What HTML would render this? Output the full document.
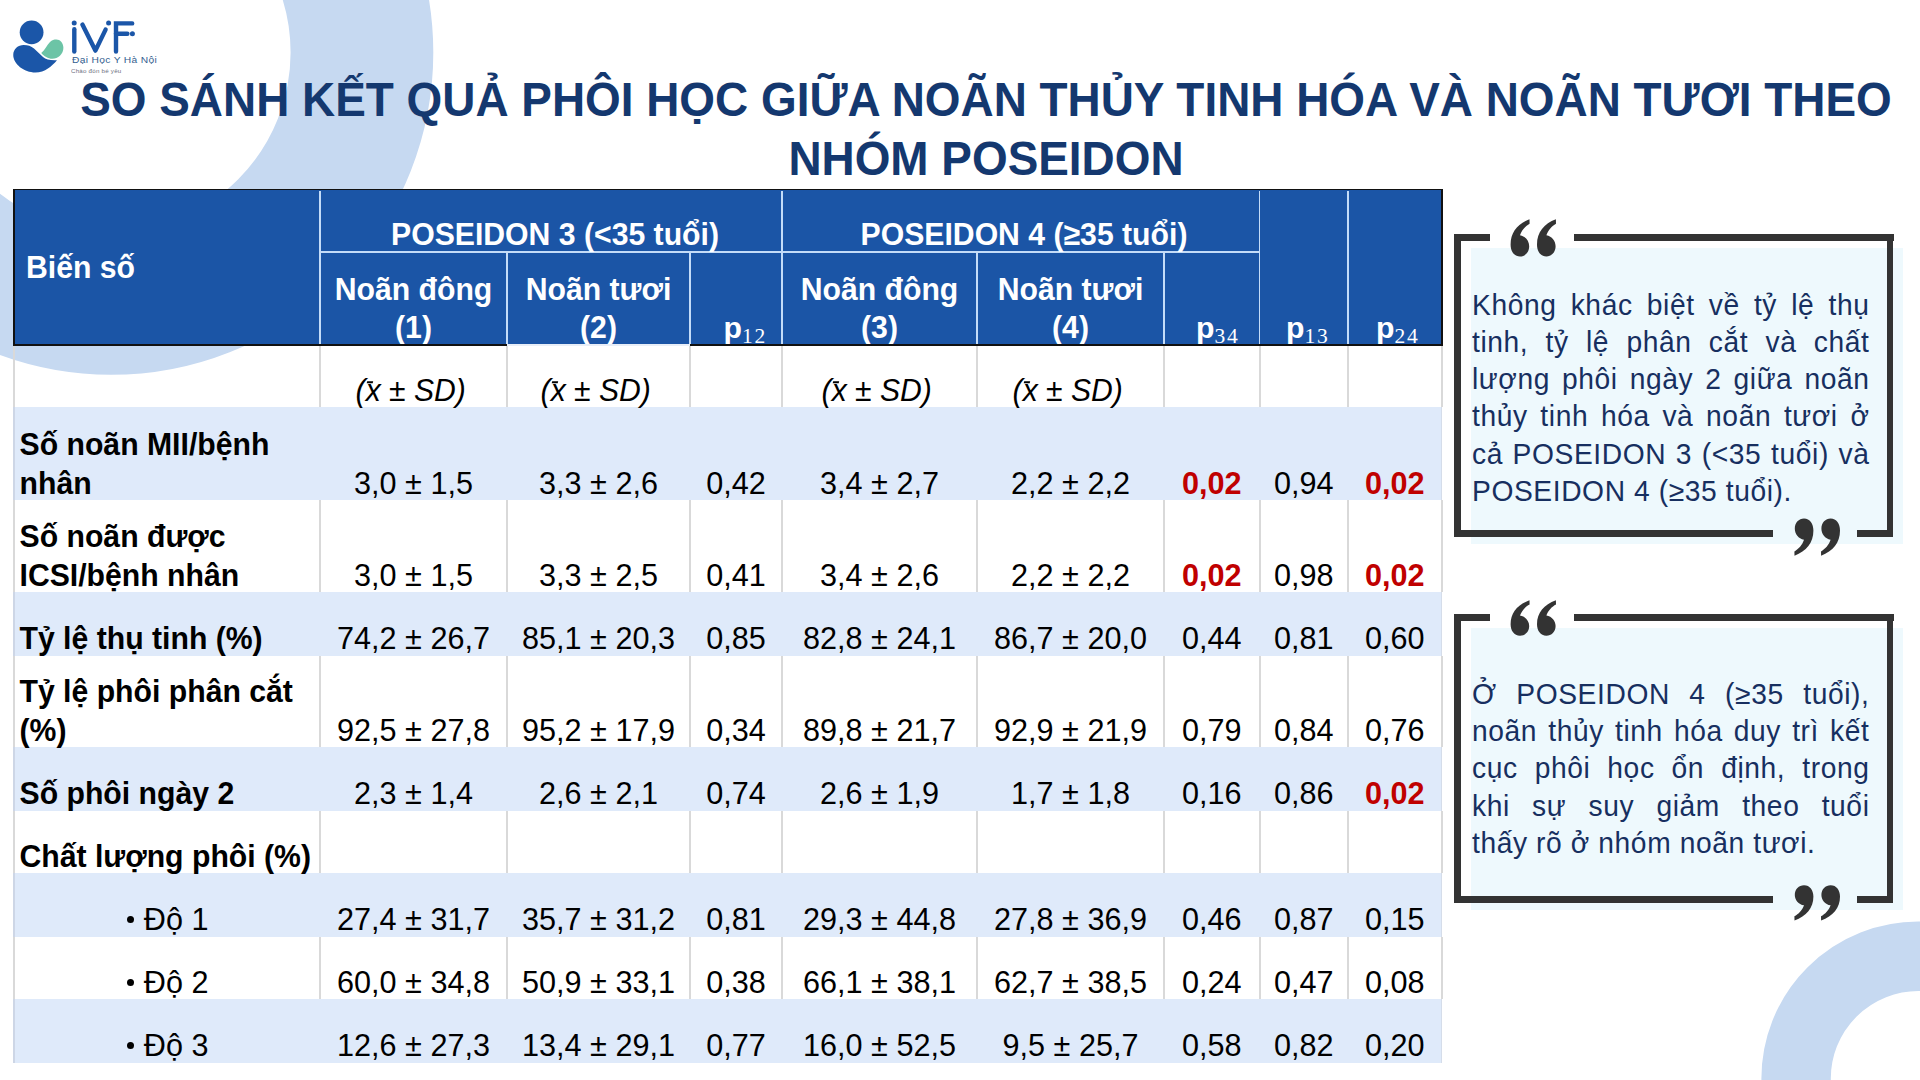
<!DOCTYPE html><html><head><meta charset="utf-8"><style>
html,body{margin:0;padding:0;background:#fff;}
body{width:1920px;height:1080px;position:relative;overflow:hidden;font-family:"Liberation Sans", sans-serif;}
.t{position:absolute;white-space:nowrap;}
.r{position:absolute;}
svg{position:absolute;left:0;top:0;}
</style></head><body>
<svg width="1920" height="1080" viewBox="0 0 1920 1080">
<circle cx="111" cy="52.5" r="250.95" fill="none" stroke="#c6d9f1" stroke-width="142.7"/>
<circle cx="1918.3" cy="1078.5" r="122.2" fill="none" stroke="#c6d9f1" stroke-width="69.4"/>
</svg>
<svg width="170" height="80" viewBox="0 0 170 80" style="left:0;top:0">
<circle cx="31.6" cy="32.3" r="11.9" fill="#1b56a8"/>
<path d="M23.75 45 C28 45 31 46 34 48.5 L43 57 C46 59.5 50 60.5 57 60.2 C52 66 45 72.5 35.4 72.5 C24 72.5 13.25 64 13.25 55 C13.25 49 18 45 23.75 45 Z" fill="#1b56a8"/>
<path d="M41.25 52.9 C45 50 47 45 50 42 C52 40 54 39.5 56.4 39.5 C60 39.5 63.4 43 63.4 47.7 C63.4 54 58 58.75 52.3 58.75 C48 58.75 44 56 41.25 52.9 Z" fill="#6cc4a6"/>
<g stroke="#1b56a8" stroke-width="4.4" stroke-linecap="round" fill="none">
<line x1="74.3" y1="29.2" x2="74.3" y2="51.6"/>
<polyline points="82.4,24.6 95.4,50.6 105.6,29.6" stroke-linejoin="round"/>
<polyline points="132.2,23.4 116,23.4 116,51.6"/>
<line x1="116" y1="33.7" x2="127.4" y2="33.7"/>
</g>
<g fill="#1b56a8"><circle cx="74.2" cy="23" r="2.5"/><circle cx="108.6" cy="23" r="2.5"/><circle cx="132.4" cy="33.7" r="2.5"/></g>
</svg>
<div class="t" style="left:71.50px;top:54.38px;font-size:9.3px;line-height:12px;color:#33608f;font-weight:normal;font-style:normal;letter-spacing:0.3px;transform:scale(1.1,1.0);transform-origin:0 9.22px;">Đại Học Y Hà Nội</div>
<div class="t" style="left:71.30px;top:66.59px;font-size:5.8px;line-height:8px;color:#6e7080;font-weight:normal;font-style:normal;letter-spacing:0.2px;transform:scale(1.07,1.0);transform-origin:0 6.01px;">Chào đón bé yêu</div>
<div class="t" style="left:0.00px;top:72.40px;width:1972.00px;text-align:center;font-size:45.9px;line-height:56px;color:#14386f;font-weight:bold;font-style:normal;transform:scale(1.0,1.04);transform-origin:0 43.90px;">SO SÁNH KẾT QUẢ PHÔI HỌC GIỮA NOÃN THỦY TINH HÓA VÀ NOÃN TƯƠI THEO</div>
<div class="t" style="left:0.00px;top:131.30px;width:1972.00px;text-align:center;font-size:45.9px;line-height:56px;color:#14386f;font-weight:bold;font-style:normal;transform:scale(1.0,1.04);transform-origin:0 43.90px;">NHÓM POSEIDON</div>
<div class="r" style="left:13.00px;top:345.00px;width:2.00px;height:62.00px;background:#d9d9d9;"></div>
<div class="r" style="left:319.00px;top:345.00px;width:2.00px;height:62.00px;background:#d9d9d9;"></div>
<div class="r" style="left:506.00px;top:345.00px;width:2.00px;height:62.00px;background:#d9d9d9;"></div>
<div class="r" style="left:689.00px;top:345.00px;width:2.00px;height:62.00px;background:#d9d9d9;"></div>
<div class="r" style="left:781.00px;top:345.00px;width:2.00px;height:62.00px;background:#d9d9d9;"></div>
<div class="r" style="left:976.00px;top:345.00px;width:2.00px;height:62.00px;background:#d9d9d9;"></div>
<div class="r" style="left:1163.00px;top:345.00px;width:2.00px;height:62.00px;background:#d9d9d9;"></div>
<div class="r" style="left:1258.50px;top:345.00px;width:2.00px;height:62.00px;background:#d9d9d9;"></div>
<div class="r" style="left:1347.00px;top:345.00px;width:2.00px;height:62.00px;background:#d9d9d9;"></div>
<div class="r" style="left:1440.50px;top:345.00px;width:2.00px;height:62.00px;background:#d9d9d9;"></div>
<div class="r" style="left:14.00px;top:407.00px;width:1427.50px;height:93.30px;background:#dfeafa;"></div>
<div class="r" style="left:13.00px;top:407.00px;width:1.50px;height:93.30px;background:#cdd6e6;"></div>
<div class="r" style="left:1441.00px;top:407.00px;width:1.00px;height:93.30px;background:#d5ddea;"></div>
<div class="r" style="left:13.00px;top:500.30px;width:2.00px;height:91.70px;background:#d9d9d9;"></div>
<div class="r" style="left:319.00px;top:500.30px;width:2.00px;height:91.70px;background:#d9d9d9;"></div>
<div class="r" style="left:506.00px;top:500.30px;width:2.00px;height:91.70px;background:#d9d9d9;"></div>
<div class="r" style="left:689.00px;top:500.30px;width:2.00px;height:91.70px;background:#d9d9d9;"></div>
<div class="r" style="left:781.00px;top:500.30px;width:2.00px;height:91.70px;background:#d9d9d9;"></div>
<div class="r" style="left:976.00px;top:500.30px;width:2.00px;height:91.70px;background:#d9d9d9;"></div>
<div class="r" style="left:1163.00px;top:500.30px;width:2.00px;height:91.70px;background:#d9d9d9;"></div>
<div class="r" style="left:1258.50px;top:500.30px;width:2.00px;height:91.70px;background:#d9d9d9;"></div>
<div class="r" style="left:1347.00px;top:500.30px;width:2.00px;height:91.70px;background:#d9d9d9;"></div>
<div class="r" style="left:1440.50px;top:500.30px;width:2.00px;height:91.70px;background:#d9d9d9;"></div>
<div class="r" style="left:14.00px;top:592.00px;width:1427.50px;height:64.00px;background:#dfeafa;"></div>
<div class="r" style="left:13.00px;top:592.00px;width:1.50px;height:64.00px;background:#cdd6e6;"></div>
<div class="r" style="left:1441.00px;top:592.00px;width:1.00px;height:64.00px;background:#d5ddea;"></div>
<div class="r" style="left:13.00px;top:656.00px;width:2.00px;height:91.00px;background:#d9d9d9;"></div>
<div class="r" style="left:319.00px;top:656.00px;width:2.00px;height:91.00px;background:#d9d9d9;"></div>
<div class="r" style="left:506.00px;top:656.00px;width:2.00px;height:91.00px;background:#d9d9d9;"></div>
<div class="r" style="left:689.00px;top:656.00px;width:2.00px;height:91.00px;background:#d9d9d9;"></div>
<div class="r" style="left:781.00px;top:656.00px;width:2.00px;height:91.00px;background:#d9d9d9;"></div>
<div class="r" style="left:976.00px;top:656.00px;width:2.00px;height:91.00px;background:#d9d9d9;"></div>
<div class="r" style="left:1163.00px;top:656.00px;width:2.00px;height:91.00px;background:#d9d9d9;"></div>
<div class="r" style="left:1258.50px;top:656.00px;width:2.00px;height:91.00px;background:#d9d9d9;"></div>
<div class="r" style="left:1347.00px;top:656.00px;width:2.00px;height:91.00px;background:#d9d9d9;"></div>
<div class="r" style="left:1440.50px;top:656.00px;width:2.00px;height:91.00px;background:#d9d9d9;"></div>
<div class="r" style="left:14.00px;top:747.00px;width:1427.50px;height:64.00px;background:#dfeafa;"></div>
<div class="r" style="left:13.00px;top:747.00px;width:1.50px;height:64.00px;background:#cdd6e6;"></div>
<div class="r" style="left:1441.00px;top:747.00px;width:1.00px;height:64.00px;background:#d5ddea;"></div>
<div class="r" style="left:13.00px;top:811.00px;width:2.00px;height:62.00px;background:#d9d9d9;"></div>
<div class="r" style="left:319.00px;top:811.00px;width:2.00px;height:62.00px;background:#d9d9d9;"></div>
<div class="r" style="left:506.00px;top:811.00px;width:2.00px;height:62.00px;background:#d9d9d9;"></div>
<div class="r" style="left:689.00px;top:811.00px;width:2.00px;height:62.00px;background:#d9d9d9;"></div>
<div class="r" style="left:781.00px;top:811.00px;width:2.00px;height:62.00px;background:#d9d9d9;"></div>
<div class="r" style="left:976.00px;top:811.00px;width:2.00px;height:62.00px;background:#d9d9d9;"></div>
<div class="r" style="left:1163.00px;top:811.00px;width:2.00px;height:62.00px;background:#d9d9d9;"></div>
<div class="r" style="left:1258.50px;top:811.00px;width:2.00px;height:62.00px;background:#d9d9d9;"></div>
<div class="r" style="left:1347.00px;top:811.00px;width:2.00px;height:62.00px;background:#d9d9d9;"></div>
<div class="r" style="left:1440.50px;top:811.00px;width:2.00px;height:62.00px;background:#d9d9d9;"></div>
<div class="r" style="left:14.00px;top:873.00px;width:1427.50px;height:64.00px;background:#dfeafa;"></div>
<div class="r" style="left:13.00px;top:873.00px;width:1.50px;height:64.00px;background:#cdd6e6;"></div>
<div class="r" style="left:1441.00px;top:873.00px;width:1.00px;height:64.00px;background:#d5ddea;"></div>
<div class="r" style="left:13.00px;top:937.00px;width:2.00px;height:62.00px;background:#d9d9d9;"></div>
<div class="r" style="left:319.00px;top:937.00px;width:2.00px;height:62.00px;background:#d9d9d9;"></div>
<div class="r" style="left:506.00px;top:937.00px;width:2.00px;height:62.00px;background:#d9d9d9;"></div>
<div class="r" style="left:689.00px;top:937.00px;width:2.00px;height:62.00px;background:#d9d9d9;"></div>
<div class="r" style="left:781.00px;top:937.00px;width:2.00px;height:62.00px;background:#d9d9d9;"></div>
<div class="r" style="left:976.00px;top:937.00px;width:2.00px;height:62.00px;background:#d9d9d9;"></div>
<div class="r" style="left:1163.00px;top:937.00px;width:2.00px;height:62.00px;background:#d9d9d9;"></div>
<div class="r" style="left:1258.50px;top:937.00px;width:2.00px;height:62.00px;background:#d9d9d9;"></div>
<div class="r" style="left:1347.00px;top:937.00px;width:2.00px;height:62.00px;background:#d9d9d9;"></div>
<div class="r" style="left:1440.50px;top:937.00px;width:2.00px;height:62.00px;background:#d9d9d9;"></div>
<div class="r" style="left:14.00px;top:999.00px;width:1427.50px;height:64.00px;background:#dfeafa;"></div>
<div class="r" style="left:13.00px;top:999.00px;width:1.50px;height:64.00px;background:#cdd6e6;"></div>
<div class="r" style="left:1441.00px;top:999.00px;width:1.00px;height:64.00px;background:#d5ddea;"></div>
<div class="r" style="left:13.00px;top:189.00px;width:1429.50px;height:156.50px;background:#1b55a6;"></div>
<div class="r" style="left:319.25px;top:191.00px;width:1.50px;height:152.50px;background:#c4dcf8;"></div>
<div class="r" style="left:506.25px;top:252.00px;width:1.50px;height:91.50px;background:#c4dcf8;"></div>
<div class="r" style="left:689.25px;top:252.00px;width:1.50px;height:91.50px;background:#c4dcf8;"></div>
<div class="r" style="left:781.25px;top:191.00px;width:1.50px;height:152.50px;background:#c4dcf8;"></div>
<div class="r" style="left:976.25px;top:252.00px;width:1.50px;height:91.50px;background:#c4dcf8;"></div>
<div class="r" style="left:1163.25px;top:252.00px;width:1.50px;height:91.50px;background:#c4dcf8;"></div>
<div class="r" style="left:1258.75px;top:191.00px;width:1.50px;height:152.50px;background:#c4dcf8;"></div>
<div class="r" style="left:1347.25px;top:191.00px;width:1.50px;height:152.50px;background:#c4dcf8;"></div>
<div class="r" style="left:320.00px;top:251.25px;width:939.50px;height:1.50px;background:#c4dcf8;"></div>
<div class="t" style="left:26.00px;top:248.54px;font-size:30.2px;line-height:38px;color:#fff;font-weight:bold;font-style:normal;transform:scale(1.0,1.04);transform-origin:0 29.46px;">Biến số</div>
<div class="t" style="left:320.00px;top:216.34px;width:470.00px;text-align:center;font-size:30.2px;line-height:38px;color:#fff;font-weight:bold;font-style:normal;transform:scale(1.0,1.04);transform-origin:0 29.46px;">POSEIDON 3 (&lt;35 tuổi)</div>
<div class="t" style="left:782.00px;top:216.34px;width:484.00px;text-align:center;font-size:30.2px;line-height:38px;color:#fff;font-weight:bold;font-style:normal;transform:scale(1.0,1.04);transform-origin:0 29.46px;">POSEIDON 4 (≥35 tuổi)</div>
<div class="t" style="left:320.00px;top:270.54px;width:187.00px;text-align:center;font-size:30.2px;line-height:38px;color:#fff;font-weight:bold;font-style:normal;transform:scale(1.0,1.04);transform-origin:0 29.46px;">Noãn đông</div>
<div class="t" style="left:320.00px;top:308.54px;width:187.00px;text-align:center;font-size:30.2px;line-height:38px;color:#fff;font-weight:bold;font-style:normal;transform:scale(1.0,1.04);transform-origin:0 29.46px;">(1)</div>
<div class="t" style="left:507.00px;top:270.54px;width:183.00px;text-align:center;font-size:30.2px;line-height:38px;color:#fff;font-weight:bold;font-style:normal;transform:scale(1.0,1.04);transform-origin:0 29.46px;">Noãn tươi</div>
<div class="t" style="left:507.00px;top:308.54px;width:183.00px;text-align:center;font-size:30.2px;line-height:38px;color:#fff;font-weight:bold;font-style:normal;transform:scale(1.0,1.04);transform-origin:0 29.46px;">(2)</div>
<div class="t" style="left:782.00px;top:270.54px;width:195.00px;text-align:center;font-size:30.2px;line-height:38px;color:#fff;font-weight:bold;font-style:normal;transform:scale(1.0,1.04);transform-origin:0 29.46px;">Noãn đông</div>
<div class="t" style="left:782.00px;top:308.54px;width:195.00px;text-align:center;font-size:30.2px;line-height:38px;color:#fff;font-weight:bold;font-style:normal;transform:scale(1.0,1.04);transform-origin:0 29.46px;">(3)</div>
<div class="t" style="left:977.00px;top:270.54px;width:187.00px;text-align:center;font-size:30.2px;line-height:38px;color:#fff;font-weight:bold;font-style:normal;transform:scale(1.0,1.04);transform-origin:0 29.46px;">Noãn tươi</div>
<div class="t" style="left:977.00px;top:308.54px;width:187.00px;text-align:center;font-size:30.2px;line-height:38px;color:#fff;font-weight:bold;font-style:normal;transform:scale(1.0,1.04);transform-origin:0 29.46px;">(4)</div>
<div class="t" style="left:723.5px;top:308.54px;font-size:30.2px;line-height:38px;color:#fff;font-weight:bold;">p<span style="font-family:'Liberation Serif',serif;font-weight:normal;font-size:21.5px;letter-spacing:1.8px;position:relative;top:5px;">12</span></div>
<div class="t" style="left:1196px;top:308.54px;font-size:30.2px;line-height:38px;color:#fff;font-weight:bold;">p<span style="font-family:'Liberation Serif',serif;font-weight:normal;font-size:21.5px;letter-spacing:1.8px;position:relative;top:5px;">34</span></div>
<div class="t" style="left:1286px;top:308.54px;font-size:30.2px;line-height:38px;color:#fff;font-weight:bold;">p<span style="font-family:'Liberation Serif',serif;font-weight:normal;font-size:21.5px;letter-spacing:1.8px;position:relative;top:5px;">13</span></div>
<div class="t" style="left:1376px;top:308.54px;font-size:30.2px;line-height:38px;color:#fff;font-weight:bold;">p<span style="font-family:'Liberation Serif',serif;font-weight:normal;font-size:21.5px;letter-spacing:1.8px;position:relative;top:5px;">24</span></div>
<div class="r" style="left:13.00px;top:189.00px;width:1429.50px;height:1.40px;background:#111;"></div>
<div class="r" style="left:13.00px;top:343.50px;width:1429.50px;height:2.00px;background:#111;"></div>
<div class="r" style="left:13.00px;top:189.00px;width:1.50px;height:156.50px;background:#111;"></div>
<div class="r" style="left:1441.00px;top:189.00px;width:1.50px;height:156.50px;background:#111;"></div>
<div class="r" style="left:507.00px;top:343.50px;width:183.00px;height:2.00px;background:#e8eef8;"></div>
<div class="t" style="left:317.20px;top:371.57px;width:187.00px;text-align:center;font-size:30.1px;line-height:38px;color:#000;font-weight:normal;font-style:italic;transform:scale(1.0,1.04);transform-origin:0 29.43px;">(<span style="position:relative;display:inline-block;">x<span style="position:absolute;left:1px;top:9.5px;width:5.5px;height:1.5px;background:#000;transform:skewX(-12deg);"></span></span> ± SD)</div>
<div class="t" style="left:504.20px;top:371.57px;width:183.00px;text-align:center;font-size:30.1px;line-height:38px;color:#000;font-weight:normal;font-style:italic;transform:scale(1.0,1.04);transform-origin:0 29.43px;">(<span style="position:relative;display:inline-block;">x<span style="position:absolute;left:1px;top:9.5px;width:5.5px;height:1.5px;background:#000;transform:skewX(-12deg);"></span></span> ± SD)</div>
<div class="t" style="left:779.20px;top:371.57px;width:195.00px;text-align:center;font-size:30.1px;line-height:38px;color:#000;font-weight:normal;font-style:italic;transform:scale(1.0,1.04);transform-origin:0 29.43px;">(<span style="position:relative;display:inline-block;">x<span style="position:absolute;left:1px;top:9.5px;width:5.5px;height:1.5px;background:#000;transform:skewX(-12deg);"></span></span> ± SD)</div>
<div class="t" style="left:974.20px;top:371.57px;width:187.00px;text-align:center;font-size:30.1px;line-height:38px;color:#000;font-weight:normal;font-style:italic;transform:scale(1.0,1.04);transform-origin:0 29.43px;">(<span style="position:relative;display:inline-block;">x<span style="position:absolute;left:1px;top:9.5px;width:5.5px;height:1.5px;background:#000;transform:skewX(-12deg);"></span></span> ± SD)</div>
<div class="t" style="left:19.50px;top:426.34px;font-size:30.2px;line-height:38px;color:#000;font-weight:bold;font-style:normal;transform:scale(1.0,1.04);transform-origin:0 29.46px;">Số noãn MII/bệnh</div>
<div class="t" style="left:19.50px;top:464.84px;font-size:30.2px;line-height:38px;color:#000;font-weight:bold;font-style:normal;transform:scale(1.0,1.04);transform-origin:0 29.46px;">nhân</div>
<div class="t" style="left:320.00px;top:463.70px;width:187.00px;text-align:center;font-size:30.6px;line-height:38px;color:#000;font-weight:normal;font-style:normal;transform:scale(1.0,1.04);transform-origin:0 29.60px;">3,0 ± 1,5</div>
<div class="t" style="left:507.00px;top:463.70px;width:183.00px;text-align:center;font-size:30.6px;line-height:38px;color:#000;font-weight:normal;font-style:normal;transform:scale(1.0,1.04);transform-origin:0 29.60px;">3,3 ± 2,6</div>
<div class="t" style="left:690.00px;top:463.70px;width:92.00px;text-align:center;font-size:30.6px;line-height:38px;color:#000;font-weight:normal;font-style:normal;transform:scale(1.0,1.04);transform-origin:0 29.60px;">0,42</div>
<div class="t" style="left:782.00px;top:463.70px;width:195.00px;text-align:center;font-size:30.6px;line-height:38px;color:#000;font-weight:normal;font-style:normal;transform:scale(1.0,1.04);transform-origin:0 29.60px;">3,4 ± 2,7</div>
<div class="t" style="left:977.00px;top:463.70px;width:187.00px;text-align:center;font-size:30.6px;line-height:38px;color:#000;font-weight:normal;font-style:normal;transform:scale(1.0,1.04);transform-origin:0 29.60px;">2,2 ± 2,2</div>
<div class="t" style="left:1164.00px;top:463.70px;width:95.50px;text-align:center;font-size:30.6px;line-height:38px;color:#c00000;font-weight:bold;font-style:normal;transform:scale(1.0,1.04);transform-origin:0 29.60px;">0,02</div>
<div class="t" style="left:1259.50px;top:463.70px;width:88.50px;text-align:center;font-size:30.6px;line-height:38px;color:#000;font-weight:normal;font-style:normal;transform:scale(1.0,1.04);transform-origin:0 29.60px;">0,94</div>
<div class="t" style="left:1348.00px;top:463.70px;width:93.50px;text-align:center;font-size:30.6px;line-height:38px;color:#c00000;font-weight:bold;font-style:normal;transform:scale(1.0,1.04);transform-origin:0 29.60px;">0,02</div>
<div class="t" style="left:19.50px;top:518.04px;font-size:30.2px;line-height:38px;color:#000;font-weight:bold;font-style:normal;transform:scale(1.0,1.04);transform-origin:0 29.46px;">Số noãn được</div>
<div class="t" style="left:19.50px;top:556.54px;font-size:30.2px;line-height:38px;color:#000;font-weight:bold;font-style:normal;transform:scale(1.0,1.04);transform-origin:0 29.46px;">ICSI/bệnh nhân</div>
<div class="t" style="left:320.00px;top:556.40px;width:187.00px;text-align:center;font-size:30.6px;line-height:38px;color:#000;font-weight:normal;font-style:normal;transform:scale(1.0,1.04);transform-origin:0 29.60px;">3,0 ± 1,5</div>
<div class="t" style="left:507.00px;top:556.40px;width:183.00px;text-align:center;font-size:30.6px;line-height:38px;color:#000;font-weight:normal;font-style:normal;transform:scale(1.0,1.04);transform-origin:0 29.60px;">3,3 ± 2,5</div>
<div class="t" style="left:690.00px;top:556.40px;width:92.00px;text-align:center;font-size:30.6px;line-height:38px;color:#000;font-weight:normal;font-style:normal;transform:scale(1.0,1.04);transform-origin:0 29.60px;">0,41</div>
<div class="t" style="left:782.00px;top:556.40px;width:195.00px;text-align:center;font-size:30.6px;line-height:38px;color:#000;font-weight:normal;font-style:normal;transform:scale(1.0,1.04);transform-origin:0 29.60px;">3,4 ± 2,6</div>
<div class="t" style="left:977.00px;top:556.40px;width:187.00px;text-align:center;font-size:30.6px;line-height:38px;color:#000;font-weight:normal;font-style:normal;transform:scale(1.0,1.04);transform-origin:0 29.60px;">2,2 ± 2,2</div>
<div class="t" style="left:1164.00px;top:556.40px;width:95.50px;text-align:center;font-size:30.6px;line-height:38px;color:#c00000;font-weight:bold;font-style:normal;transform:scale(1.0,1.04);transform-origin:0 29.60px;">0,02</div>
<div class="t" style="left:1259.50px;top:556.40px;width:88.50px;text-align:center;font-size:30.6px;line-height:38px;color:#000;font-weight:normal;font-style:normal;transform:scale(1.0,1.04);transform-origin:0 29.60px;">0,98</div>
<div class="t" style="left:1348.00px;top:556.40px;width:93.50px;text-align:center;font-size:30.6px;line-height:38px;color:#c00000;font-weight:bold;font-style:normal;transform:scale(1.0,1.04);transform-origin:0 29.60px;">0,02</div>
<div class="t" style="left:19.50px;top:619.54px;font-size:30.2px;line-height:38px;color:#000;font-weight:bold;font-style:normal;transform:scale(1.0,1.04);transform-origin:0 29.46px;">Tỷ lệ thụ tinh (%)</div>
<div class="t" style="left:320.00px;top:619.40px;width:187.00px;text-align:center;font-size:30.6px;line-height:38px;color:#000;font-weight:normal;font-style:normal;transform:scale(1.0,1.04);transform-origin:0 29.60px;">74,2 ± 26,7</div>
<div class="t" style="left:507.00px;top:619.40px;width:183.00px;text-align:center;font-size:30.6px;line-height:38px;color:#000;font-weight:normal;font-style:normal;transform:scale(1.0,1.04);transform-origin:0 29.60px;">85,1 ± 20,3</div>
<div class="t" style="left:690.00px;top:619.40px;width:92.00px;text-align:center;font-size:30.6px;line-height:38px;color:#000;font-weight:normal;font-style:normal;transform:scale(1.0,1.04);transform-origin:0 29.60px;">0,85</div>
<div class="t" style="left:782.00px;top:619.40px;width:195.00px;text-align:center;font-size:30.6px;line-height:38px;color:#000;font-weight:normal;font-style:normal;transform:scale(1.0,1.04);transform-origin:0 29.60px;">82,8 ± 24,1</div>
<div class="t" style="left:977.00px;top:619.40px;width:187.00px;text-align:center;font-size:30.6px;line-height:38px;color:#000;font-weight:normal;font-style:normal;transform:scale(1.0,1.04);transform-origin:0 29.60px;">86,7 ± 20,0</div>
<div class="t" style="left:1164.00px;top:619.40px;width:95.50px;text-align:center;font-size:30.6px;line-height:38px;color:#000;font-weight:normal;font-style:normal;transform:scale(1.0,1.04);transform-origin:0 29.60px;">0,44</div>
<div class="t" style="left:1259.50px;top:619.40px;width:88.50px;text-align:center;font-size:30.6px;line-height:38px;color:#000;font-weight:normal;font-style:normal;transform:scale(1.0,1.04);transform-origin:0 29.60px;">0,81</div>
<div class="t" style="left:1348.00px;top:619.40px;width:93.50px;text-align:center;font-size:30.6px;line-height:38px;color:#000;font-weight:normal;font-style:normal;transform:scale(1.0,1.04);transform-origin:0 29.60px;">0,60</div>
<div class="t" style="left:19.50px;top:673.04px;font-size:30.2px;line-height:38px;color:#000;font-weight:bold;font-style:normal;transform:scale(1.0,1.04);transform-origin:0 29.46px;">Tỷ lệ phôi phân cắt</div>
<div class="t" style="left:19.50px;top:711.54px;font-size:30.2px;line-height:38px;color:#000;font-weight:bold;font-style:normal;transform:scale(1.0,1.04);transform-origin:0 29.46px;">(%)</div>
<div class="t" style="left:320.00px;top:711.40px;width:187.00px;text-align:center;font-size:30.6px;line-height:38px;color:#000;font-weight:normal;font-style:normal;transform:scale(1.0,1.04);transform-origin:0 29.60px;">92,5 ± 27,8</div>
<div class="t" style="left:507.00px;top:711.40px;width:183.00px;text-align:center;font-size:30.6px;line-height:38px;color:#000;font-weight:normal;font-style:normal;transform:scale(1.0,1.04);transform-origin:0 29.60px;">95,2 ± 17,9</div>
<div class="t" style="left:690.00px;top:711.40px;width:92.00px;text-align:center;font-size:30.6px;line-height:38px;color:#000;font-weight:normal;font-style:normal;transform:scale(1.0,1.04);transform-origin:0 29.60px;">0,34</div>
<div class="t" style="left:782.00px;top:711.40px;width:195.00px;text-align:center;font-size:30.6px;line-height:38px;color:#000;font-weight:normal;font-style:normal;transform:scale(1.0,1.04);transform-origin:0 29.60px;">89,8 ± 21,7</div>
<div class="t" style="left:977.00px;top:711.40px;width:187.00px;text-align:center;font-size:30.6px;line-height:38px;color:#000;font-weight:normal;font-style:normal;transform:scale(1.0,1.04);transform-origin:0 29.60px;">92,9 ± 21,9</div>
<div class="t" style="left:1164.00px;top:711.40px;width:95.50px;text-align:center;font-size:30.6px;line-height:38px;color:#000;font-weight:normal;font-style:normal;transform:scale(1.0,1.04);transform-origin:0 29.60px;">0,79</div>
<div class="t" style="left:1259.50px;top:711.40px;width:88.50px;text-align:center;font-size:30.6px;line-height:38px;color:#000;font-weight:normal;font-style:normal;transform:scale(1.0,1.04);transform-origin:0 29.60px;">0,84</div>
<div class="t" style="left:1348.00px;top:711.40px;width:93.50px;text-align:center;font-size:30.6px;line-height:38px;color:#000;font-weight:normal;font-style:normal;transform:scale(1.0,1.04);transform-origin:0 29.60px;">0,76</div>
<div class="t" style="left:19.50px;top:774.54px;font-size:30.2px;line-height:38px;color:#000;font-weight:bold;font-style:normal;transform:scale(1.0,1.04);transform-origin:0 29.46px;">Số phôi ngày 2</div>
<div class="t" style="left:320.00px;top:774.40px;width:187.00px;text-align:center;font-size:30.6px;line-height:38px;color:#000;font-weight:normal;font-style:normal;transform:scale(1.0,1.04);transform-origin:0 29.60px;">2,3 ± 1,4</div>
<div class="t" style="left:507.00px;top:774.40px;width:183.00px;text-align:center;font-size:30.6px;line-height:38px;color:#000;font-weight:normal;font-style:normal;transform:scale(1.0,1.04);transform-origin:0 29.60px;">2,6 ± 2,1</div>
<div class="t" style="left:690.00px;top:774.40px;width:92.00px;text-align:center;font-size:30.6px;line-height:38px;color:#000;font-weight:normal;font-style:normal;transform:scale(1.0,1.04);transform-origin:0 29.60px;">0,74</div>
<div class="t" style="left:782.00px;top:774.40px;width:195.00px;text-align:center;font-size:30.6px;line-height:38px;color:#000;font-weight:normal;font-style:normal;transform:scale(1.0,1.04);transform-origin:0 29.60px;">2,6 ± 1,9</div>
<div class="t" style="left:977.00px;top:774.40px;width:187.00px;text-align:center;font-size:30.6px;line-height:38px;color:#000;font-weight:normal;font-style:normal;transform:scale(1.0,1.04);transform-origin:0 29.60px;">1,7 ± 1,8</div>
<div class="t" style="left:1164.00px;top:774.40px;width:95.50px;text-align:center;font-size:30.6px;line-height:38px;color:#000;font-weight:normal;font-style:normal;transform:scale(1.0,1.04);transform-origin:0 29.60px;">0,16</div>
<div class="t" style="left:1259.50px;top:774.40px;width:88.50px;text-align:center;font-size:30.6px;line-height:38px;color:#000;font-weight:normal;font-style:normal;transform:scale(1.0,1.04);transform-origin:0 29.60px;">0,86</div>
<div class="t" style="left:1348.00px;top:774.40px;width:93.50px;text-align:center;font-size:30.6px;line-height:38px;color:#c00000;font-weight:bold;font-style:normal;transform:scale(1.0,1.04);transform-origin:0 29.60px;">0,02</div>
<div class="t" style="left:19.50px;top:837.54px;font-size:30.2px;line-height:38px;color:#000;font-weight:bold;font-style:normal;transform:scale(1.0,1.04);transform-origin:0 29.46px;">Chất lượng phôi (%)</div>
<div class="r" style="left:127.05px;top:915.65px;width:7.30px;height:7.30px;background:#000;border-radius:50%;"></div>
<div class="t" style="left:143.80px;top:900.40px;font-size:30.6px;line-height:38px;color:#000;font-weight:normal;font-style:normal;transform:scale(1.0,1.04);transform-origin:0 29.60px;">Độ 1</div>
<div class="t" style="left:320.00px;top:900.40px;width:187.00px;text-align:center;font-size:30.6px;line-height:38px;color:#000;font-weight:normal;font-style:normal;transform:scale(1.0,1.04);transform-origin:0 29.60px;">27,4 ± 31,7</div>
<div class="t" style="left:507.00px;top:900.40px;width:183.00px;text-align:center;font-size:30.6px;line-height:38px;color:#000;font-weight:normal;font-style:normal;transform:scale(1.0,1.04);transform-origin:0 29.60px;">35,7 ± 31,2</div>
<div class="t" style="left:690.00px;top:900.40px;width:92.00px;text-align:center;font-size:30.6px;line-height:38px;color:#000;font-weight:normal;font-style:normal;transform:scale(1.0,1.04);transform-origin:0 29.60px;">0,81</div>
<div class="t" style="left:782.00px;top:900.40px;width:195.00px;text-align:center;font-size:30.6px;line-height:38px;color:#000;font-weight:normal;font-style:normal;transform:scale(1.0,1.04);transform-origin:0 29.60px;">29,3 ± 44,8</div>
<div class="t" style="left:977.00px;top:900.40px;width:187.00px;text-align:center;font-size:30.6px;line-height:38px;color:#000;font-weight:normal;font-style:normal;transform:scale(1.0,1.04);transform-origin:0 29.60px;">27,8 ± 36,9</div>
<div class="t" style="left:1164.00px;top:900.40px;width:95.50px;text-align:center;font-size:30.6px;line-height:38px;color:#000;font-weight:normal;font-style:normal;transform:scale(1.0,1.04);transform-origin:0 29.60px;">0,46</div>
<div class="t" style="left:1259.50px;top:900.40px;width:88.50px;text-align:center;font-size:30.6px;line-height:38px;color:#000;font-weight:normal;font-style:normal;transform:scale(1.0,1.04);transform-origin:0 29.60px;">0,87</div>
<div class="t" style="left:1348.00px;top:900.40px;width:93.50px;text-align:center;font-size:30.6px;line-height:38px;color:#000;font-weight:normal;font-style:normal;transform:scale(1.0,1.04);transform-origin:0 29.60px;">0,15</div>
<div class="r" style="left:127.05px;top:978.65px;width:7.30px;height:7.30px;background:#000;border-radius:50%;"></div>
<div class="t" style="left:143.80px;top:963.40px;font-size:30.6px;line-height:38px;color:#000;font-weight:normal;font-style:normal;transform:scale(1.0,1.04);transform-origin:0 29.60px;">Độ 2</div>
<div class="t" style="left:320.00px;top:963.40px;width:187.00px;text-align:center;font-size:30.6px;line-height:38px;color:#000;font-weight:normal;font-style:normal;transform:scale(1.0,1.04);transform-origin:0 29.60px;">60,0 ± 34,8</div>
<div class="t" style="left:507.00px;top:963.40px;width:183.00px;text-align:center;font-size:30.6px;line-height:38px;color:#000;font-weight:normal;font-style:normal;transform:scale(1.0,1.04);transform-origin:0 29.60px;">50,9 ± 33,1</div>
<div class="t" style="left:690.00px;top:963.40px;width:92.00px;text-align:center;font-size:30.6px;line-height:38px;color:#000;font-weight:normal;font-style:normal;transform:scale(1.0,1.04);transform-origin:0 29.60px;">0,38</div>
<div class="t" style="left:782.00px;top:963.40px;width:195.00px;text-align:center;font-size:30.6px;line-height:38px;color:#000;font-weight:normal;font-style:normal;transform:scale(1.0,1.04);transform-origin:0 29.60px;">66,1 ± 38,1</div>
<div class="t" style="left:977.00px;top:963.40px;width:187.00px;text-align:center;font-size:30.6px;line-height:38px;color:#000;font-weight:normal;font-style:normal;transform:scale(1.0,1.04);transform-origin:0 29.60px;">62,7 ± 38,5</div>
<div class="t" style="left:1164.00px;top:963.40px;width:95.50px;text-align:center;font-size:30.6px;line-height:38px;color:#000;font-weight:normal;font-style:normal;transform:scale(1.0,1.04);transform-origin:0 29.60px;">0,24</div>
<div class="t" style="left:1259.50px;top:963.40px;width:88.50px;text-align:center;font-size:30.6px;line-height:38px;color:#000;font-weight:normal;font-style:normal;transform:scale(1.0,1.04);transform-origin:0 29.60px;">0,47</div>
<div class="t" style="left:1348.00px;top:963.40px;width:93.50px;text-align:center;font-size:30.6px;line-height:38px;color:#000;font-weight:normal;font-style:normal;transform:scale(1.0,1.04);transform-origin:0 29.60px;">0,08</div>
<div class="r" style="left:127.05px;top:1041.65px;width:7.30px;height:7.30px;background:#000;border-radius:50%;"></div>
<div class="t" style="left:143.80px;top:1026.40px;font-size:30.6px;line-height:38px;color:#000;font-weight:normal;font-style:normal;transform:scale(1.0,1.04);transform-origin:0 29.60px;">Độ 3</div>
<div class="t" style="left:320.00px;top:1026.40px;width:187.00px;text-align:center;font-size:30.6px;line-height:38px;color:#000;font-weight:normal;font-style:normal;transform:scale(1.0,1.04);transform-origin:0 29.60px;">12,6 ± 27,3</div>
<div class="t" style="left:507.00px;top:1026.40px;width:183.00px;text-align:center;font-size:30.6px;line-height:38px;color:#000;font-weight:normal;font-style:normal;transform:scale(1.0,1.04);transform-origin:0 29.60px;">13,4 ± 29,1</div>
<div class="t" style="left:690.00px;top:1026.40px;width:92.00px;text-align:center;font-size:30.6px;line-height:38px;color:#000;font-weight:normal;font-style:normal;transform:scale(1.0,1.04);transform-origin:0 29.60px;">0,77</div>
<div class="t" style="left:782.00px;top:1026.40px;width:195.00px;text-align:center;font-size:30.6px;line-height:38px;color:#000;font-weight:normal;font-style:normal;transform:scale(1.0,1.04);transform-origin:0 29.60px;">16,0 ± 52,5</div>
<div class="t" style="left:977.00px;top:1026.40px;width:187.00px;text-align:center;font-size:30.6px;line-height:38px;color:#000;font-weight:normal;font-style:normal;transform:scale(1.0,1.04);transform-origin:0 29.60px;">9,5 ± 25,7</div>
<div class="t" style="left:1164.00px;top:1026.40px;width:95.50px;text-align:center;font-size:30.6px;line-height:38px;color:#000;font-weight:normal;font-style:normal;transform:scale(1.0,1.04);transform-origin:0 29.60px;">0,58</div>
<div class="t" style="left:1259.50px;top:1026.40px;width:88.50px;text-align:center;font-size:30.6px;line-height:38px;color:#000;font-weight:normal;font-style:normal;transform:scale(1.0,1.04);transform-origin:0 29.60px;">0,82</div>
<div class="t" style="left:1348.00px;top:1026.40px;width:93.50px;text-align:center;font-size:30.6px;line-height:38px;color:#000;font-weight:normal;font-style:normal;transform:scale(1.0,1.04);transform-origin:0 29.60px;">0,20</div>
<div class="r" style="left:1471.00px;top:248.00px;width:432.00px;height:296.00px;background:#eef9fd;"></div>
<div class="r" style="left:1454.00px;top:234.00px;width:35.70px;height:6.80px;background:#333333;"></div>
<div class="r" style="left:1574.00px;top:234.00px;width:319.50px;height:6.80px;background:#333333;"></div>
<div class="r" style="left:1454.00px;top:530.20px;width:319.30px;height:6.80px;background:#333333;"></div>
<div class="r" style="left:1857.30px;top:530.20px;width:36.20px;height:6.80px;background:#333333;"></div>
<div class="r" style="left:1454.00px;top:234.00px;width:6.80px;height:303.00px;background:#333333;"></div>
<div class="r" style="left:1886.70px;top:234.00px;width:6.80px;height:303.00px;background:#333333;"></div>
<svg width="1920" height="1080" viewBox="0 0 1920 1080" style="left:0;top:0;position:absolute"><path transform="translate(1510.6,219.3) scale(1,1.0)" d="M18.9 0 L19 4.4 C15 6.5 11 11 9.4 16 C15 17 18.6 22 18.6 27 C18.6 33 14.5 37.2 9.4 37.2 C3.5 37.2 0 32 0 25.2 C0 13 7 4.5 18.9 0 Z" fill="#333333"/><path transform="translate(1537.0,219.3) scale(1,1.0)" d="M18.9 0 L19 4.4 C15 6.5 11 11 9.4 16 C15 17 18.6 22 18.6 27 C18.6 33 14.5 37.2 9.4 37.2 C3.5 37.2 0 32 0 25.2 C0 13 7 4.5 18.9 0 Z" fill="#333333"/><path transform="translate(1813.4,555.8000000000001) rotate(180) scale(1,1.0)" d="M18.9 0 L19 4.4 C15 6.5 11 11 9.4 16 C15 17 18.6 22 18.6 27 C18.6 33 14.5 37.2 9.4 37.2 C3.5 37.2 0 32 0 25.2 C0 13 7 4.5 18.9 0 Z" fill="#333333"/><path transform="translate(1840.0,555.8000000000001) rotate(180) scale(1,1.0)" d="M18.9 0 L19 4.4 C15 6.5 11 11 9.4 16 C15 17 18.6 22 18.6 27 C18.6 33 14.5 37.2 9.4 37.2 C3.5 37.2 0 32 0 25.2 C0 13 7 4.5 18.9 0 Z" fill="#333333"/></svg>
<div class="t" style="left:1472.00px;top:287.63px;width:397.50px;text-align:justify;font-size:28.2px;line-height:35px;color:#172f60;font-weight:normal;font-style:normal;text-align-last:justify;white-space:normal;letter-spacing:0.6px;transform:scale(1.0,1.02);transform-origin:0 27.27px;">Không khác biệt về tỷ lệ thụ</div>
<div class="t" style="left:1472.00px;top:324.87px;width:397.50px;text-align:justify;font-size:28.2px;line-height:35px;color:#172f60;font-weight:normal;font-style:normal;text-align-last:justify;white-space:normal;letter-spacing:0.6px;transform:scale(1.0,1.02);transform-origin:0 27.27px;">tinh, tỷ lệ phân cắt và chất</div>
<div class="t" style="left:1472.00px;top:362.11px;width:397.50px;text-align:justify;font-size:28.2px;line-height:35px;color:#172f60;font-weight:normal;font-style:normal;text-align-last:justify;white-space:normal;letter-spacing:0.6px;transform:scale(1.0,1.02);transform-origin:0 27.27px;">lượng phôi ngày 2 giữa noãn</div>
<div class="t" style="left:1472.00px;top:399.35px;width:397.50px;text-align:justify;font-size:28.2px;line-height:35px;color:#172f60;font-weight:normal;font-style:normal;text-align-last:justify;white-space:normal;letter-spacing:0.6px;transform:scale(1.0,1.02);transform-origin:0 27.27px;">thủy tinh hóa và noãn tươi ở</div>
<div class="t" style="left:1472.00px;top:436.59px;width:397.50px;text-align:justify;font-size:28.2px;line-height:35px;color:#172f60;font-weight:normal;font-style:normal;text-align-last:justify;white-space:normal;letter-spacing:0.6px;transform:scale(1.0,1.02);transform-origin:0 27.27px;">cả POSEIDON 3 (&lt;35 tuổi) và</div>
<div class="t" style="left:1472.00px;top:473.83px;font-size:28.2px;line-height:35px;color:#172f60;font-weight:normal;font-style:normal;letter-spacing:0.6px;transform:scale(1.0,1.02);transform-origin:0 27.27px;">POSEIDON 4 (≥35 tuổi).</div>
<div class="r" style="left:1471.00px;top:628.20px;width:432.00px;height:281.60px;background:#eef9fd;"></div>
<div class="r" style="left:1454.00px;top:614.30px;width:35.70px;height:6.80px;background:#333333;"></div>
<div class="r" style="left:1574.00px;top:614.30px;width:319.50px;height:6.80px;background:#333333;"></div>
<div class="r" style="left:1454.00px;top:895.80px;width:319.30px;height:6.80px;background:#333333;"></div>
<div class="r" style="left:1857.30px;top:895.80px;width:36.20px;height:6.80px;background:#333333;"></div>
<div class="r" style="left:1454.00px;top:614.30px;width:6.80px;height:288.30px;background:#333333;"></div>
<div class="r" style="left:1886.70px;top:614.30px;width:6.80px;height:288.30px;background:#333333;"></div>
<svg width="1920" height="1080" viewBox="0 0 1920 1080" style="left:0;top:0;position:absolute"><path transform="translate(1510.6,600.3) scale(1,0.95)" d="M18.9 0 L19 4.4 C15 6.5 11 11 9.4 16 C15 17 18.6 22 18.6 27 C18.6 33 14.5 37.2 9.4 37.2 C3.5 37.2 0 32 0 25.2 C0 13 7 4.5 18.9 0 Z" fill="#333333"/><path transform="translate(1537.0,600.3) scale(1,0.95)" d="M18.9 0 L19 4.4 C15 6.5 11 11 9.4 16 C15 17 18.6 22 18.6 27 C18.6 33 14.5 37.2 9.4 37.2 C3.5 37.2 0 32 0 25.2 C0 13 7 4.5 18.9 0 Z" fill="#333333"/><path transform="translate(1813.4,920.5400000000001) rotate(180) scale(1,0.95)" d="M18.9 0 L19 4.4 C15 6.5 11 11 9.4 16 C15 17 18.6 22 18.6 27 C18.6 33 14.5 37.2 9.4 37.2 C3.5 37.2 0 32 0 25.2 C0 13 7 4.5 18.9 0 Z" fill="#333333"/><path transform="translate(1840.0,920.5400000000001) rotate(180) scale(1,0.95)" d="M18.9 0 L19 4.4 C15 6.5 11 11 9.4 16 C15 17 18.6 22 18.6 27 C18.6 33 14.5 37.2 9.4 37.2 C3.5 37.2 0 32 0 25.2 C0 13 7 4.5 18.9 0 Z" fill="#333333"/></svg>
<div class="t" style="left:1472.00px;top:676.63px;width:397.50px;text-align:justify;font-size:28.2px;line-height:35px;color:#172f60;font-weight:normal;font-style:normal;text-align-last:justify;white-space:normal;letter-spacing:0.6px;transform:scale(1.0,1.02);transform-origin:0 27.27px;">Ở POSEIDON 4 (≥35 tuổi),</div>
<div class="t" style="left:1472.00px;top:713.98px;width:397.50px;text-align:justify;font-size:28.2px;line-height:35px;color:#172f60;font-weight:normal;font-style:normal;text-align-last:justify;white-space:normal;letter-spacing:0.6px;transform:scale(1.0,1.02);transform-origin:0 27.27px;">noãn thủy tinh hóa duy trì kết</div>
<div class="t" style="left:1472.00px;top:751.33px;width:397.50px;text-align:justify;font-size:28.2px;line-height:35px;color:#172f60;font-weight:normal;font-style:normal;text-align-last:justify;white-space:normal;letter-spacing:0.6px;transform:scale(1.0,1.02);transform-origin:0 27.27px;">cục phôi học ổn định, trong</div>
<div class="t" style="left:1472.00px;top:788.68px;width:397.50px;text-align:justify;font-size:28.2px;line-height:35px;color:#172f60;font-weight:normal;font-style:normal;text-align-last:justify;white-space:normal;letter-spacing:0.6px;transform:scale(1.0,1.02);transform-origin:0 27.27px;">khi sự suy giảm theo tuổi</div>
<div class="t" style="left:1472.00px;top:826.03px;font-size:28.2px;line-height:35px;color:#172f60;font-weight:normal;font-style:normal;letter-spacing:0.6px;transform:scale(1.0,1.02);transform-origin:0 27.27px;">thấy rõ ở nhóm noãn tươi.</div>
</body></html>
